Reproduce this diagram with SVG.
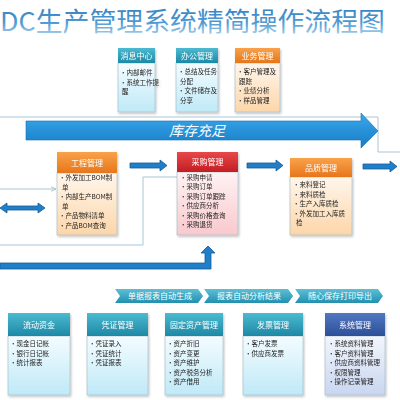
<svg xmlns="http://www.w3.org/2000/svg" width="400" height="400" viewBox="0 0 400 400">
<style>
.hd{font-family:"Noto Sans CJK SC","Noto Sans",sans-serif;font-size:8px;fill:#ffffff;text-anchor:middle}
.it{font-family:"Noto Sans CJK SC","Noto Sans",sans-serif;font-size:6.5px;fill:#222222}
.ch{font-family:"Noto Sans CJK SC","Noto Sans",sans-serif;font-size:8px;fill:#ffffff;text-anchor:middle}
.ln{fill:none;stroke:#a9c6d6;stroke-width:1}
.ba{fill:#1f7fc8;stroke:#1a5a96;stroke-width:0.8}
.bd{stroke:#9fb7c4;stroke-width:0.6}
</style>
<defs>
<linearGradient id="gTitle" x1="0" y1="0" x2="0" y2="1"><stop offset="0" stop-color="#2a78bc"/><stop offset="0.6" stop-color="#4f9ad2"/><stop offset="1" stop-color="#b8dcf2"/></linearGradient>
<linearGradient id="gTeal" x1="0" y1="0" x2="0" y2="1"><stop offset="0" stop-color="#4cbad0"/><stop offset="1" stop-color="#1d89a6"/></linearGradient>
<linearGradient id="gCyan" x1="0" y1="0" x2="0" y2="1"><stop offset="0" stop-color="#f4fcff"/><stop offset="1" stop-color="#bfe9f7"/></linearGradient>
<linearGradient id="gOrange" x1="0" y1="0" x2="0" y2="1"><stop offset="0" stop-color="#f9a24a"/><stop offset="1" stop-color="#e7761a"/></linearGradient>
<linearGradient id="gPeach" x1="0" y1="0" x2="0" y2="1"><stop offset="0" stop-color="#fff6ec"/><stop offset="1" stop-color="#fcd6aa"/></linearGradient>
<linearGradient id="gRed" x1="0" y1="0" x2="0" y2="1"><stop offset="0" stop-color="#e8484a"/><stop offset="1" stop-color="#c41d22"/></linearGradient>
<linearGradient id="gPink" x1="0" y1="0" x2="0" y2="1"><stop offset="0" stop-color="#fff2f3"/><stop offset="1" stop-color="#f8c9cd"/></linearGradient>
<linearGradient id="gNavy" x1="0" y1="0" x2="0" y2="1"><stop offset="0" stop-color="#5277c2"/><stop offset="1" stop-color="#2d4f98"/></linearGradient>
<linearGradient id="gLav" x1="0" y1="0" x2="0" y2="1"><stop offset="0" stop-color="#f2f5fc"/><stop offset="1" stop-color="#c9d6f0"/></linearGradient>
<linearGradient id="gBig" x1="0" y1="0" x2="0" y2="1"><stop offset="0" stop-color="#3aa8ec"/><stop offset="1" stop-color="#167cc6"/></linearGradient>
<linearGradient id="gChev" x1="0" y1="0" x2="0" y2="1"><stop offset="0" stop-color="#5cc0d6"/><stop offset="1" stop-color="#2290ae"/></linearGradient>
<filter id="sh" x="-10%" y="-10%" width="130%" height="130%"><feDropShadow dx="1" dy="1.5" stdDeviation="1" flood-color="#000" flood-opacity="0.25"/></filter>
<marker id="ah" viewBox="0 0 6 6" refX="5.5" refY="3" markerWidth="6" markerHeight="6" orient="auto"><path d="M0,0.5 L5.5,3 L0,5.5" fill="none" stroke="#a9c6d6" stroke-width="1"/></marker>
</defs>
<rect width="400" height="400" fill="#ffffff"/>

<text x="0" y="30.5" font-family="'Noto Sans CJK SC',sans-serif" font-size="26" fill="url(#gTitle)" textLength="385" lengthAdjust="spacingAndGlyphs">DC生产管理系统精简操作流程图</text>

<g id="connectors">
<polyline class="ln" points="0,117 378,117 378,152 400,152"/>
<polyline class="ln" points="0,245 143,245 143,177 177,177"/>
<line class="ln" x1="0" y1="189" x2="56" y2="189" marker-end="url(#ah)"/>
<polygon points="26,121 361,121 361,113 378,131 361,148 361,140 26,140" fill="url(#gBig)" stroke="#1a6fb0" stroke-width="0.6"/>
<text x="197" y="136" font-family="'Noto Sans CJK SC',sans-serif" font-size="14" fill="#ffffff" text-anchor="middle" font-style="italic">库存充足</text>
<polygon class="ba" points="130,163 160,163 160,160 167,165.5 160,171 160,168 130,168"/>
<polygon class="ba" points="247,163 276,163 276,160 283,165.5 276,171 276,168 247,168"/>
<polygon class="ba" points="363,164 390,164 390,161 397,166.5 390,172 390,169 363,169"/>
<polygon class="ba" points="0,208 7,203 7,206 38,206 38,203 45,208 38,213 38,210 7,210 7,213"/>
<polygon class="ba" points="0,263 205,263 205,253 201,253 208,246 215,253 211,253 211,269 0,269"/>
</g>

<g id="n-xiaoxi" filter="url(#sh)">
<rect x="118" y="63" width="37" height="49" fill="url(#gCyan)" class="bd"/>
<rect x="118" y="48" width="37" height="15" fill="url(#gTeal)"/>
<text class="hd" x="136.5" y="58.5" font-size="7">消息中心</text>
<text class="it" x="120" y="75">•内部邮件</text>
<text class="it" x="120" y="84.5">•系统工作提</text>
<text class="it" x="122" y="94">醒</text>
</g>
<g id="n-bangong" filter="url(#sh)">
<rect x="176" y="63" width="42" height="49" fill="url(#gCyan)" class="bd"/>
<rect x="176" y="48" width="42" height="15" fill="url(#gTeal)"/>
<text class="hd" x="197" y="58.5" font-size="7">办公管理</text>
<text class="it" x="178" y="74">•总结及任务</text>
<text class="it" x="180" y="83.5">分配</text>
<text class="it" x="178" y="93">•文件储存及</text>
<text class="it" x="180" y="102.5">分享</text>
</g>
<g id="n-yewu" filter="url(#sh)">
<rect x="235" y="63" width="45" height="49" fill="url(#gPeach)" class="bd"/>
<rect x="235" y="48" width="45" height="15" fill="url(#gOrange)"/>
<text class="hd" x="257.5" y="58.5" font-size="7">业务管理</text>
<text class="it" x="237" y="74">•客户管理及</text>
<text class="it" x="239" y="83.5">跟踪</text>
<text class="it" x="237" y="93">•业绩分析</text>
<text class="it" x="237" y="102.5">•样品管理</text>
</g>

<g id="n-gongcheng" filter="url(#sh)">
<rect x="57" y="173" width="60" height="62" fill="url(#gPeach)" class="bd"/>
<rect x="57" y="152" width="60" height="21" fill="url(#gOrange)"/>
<text class="hd" x="87" y="165.5">工程管理</text>
<text class="it" x="59" y="180">•外发加工BOM制</text>
<text class="it" x="62" y="189.5">单</text>
<text class="it" x="59" y="199">•内部生产BOM制</text>
<text class="it" x="62" y="208.5">单</text>
<text class="it" x="59" y="218">•产品物料清单</text>
<text class="it" x="59" y="227.5">•产品BOM查询</text>
</g>
<g id="n-caigou" filter="url(#sh)">
<rect x="177" y="172" width="61" height="63" fill="url(#gPink)" class="bd"/>
<rect x="177" y="152" width="61" height="20" fill="url(#gRed)"/>
<text class="hd" x="207.5" y="165">采购管理</text>
<text class="it" x="180" y="179.5">•采购申请</text>
<text class="it" x="180" y="189">•采购订单</text>
<text class="it" x="180" y="198.5">•采购订单跟踪</text>
<text class="it" x="180" y="208">•供应商分析</text>
<text class="it" x="180" y="217.5">•采购价格查询</text>
<text class="it" x="180" y="227">•采购退货</text>
</g>
<g id="n-pinzhi" filter="url(#sh)">
<rect x="290" y="177" width="62" height="58" fill="url(#gPeach)" class="bd"/>
<rect x="290" y="158" width="62" height="19" fill="url(#gOrange)"/>
<text class="hd" x="321" y="170.5">品质管理</text>
<text class="it" x="293" y="187">•来料登记</text>
<text class="it" x="293" y="196.5">•来料质检</text>
<text class="it" x="293" y="206">•生产入库质检</text>
<text class="it" x="293" y="215.5">•外发加工入库质</text>
<text class="it" x="296" y="225">检</text>
</g>

<g id="n-chevrons">
<polygon points="115,289 198,289 203,296 198,303 115,303 120,296" fill="url(#gChev)"/>
<text class="ch" x="160" y="299">单据报表自动生成</text>
<polygon points="204,289 288,289 293,296 288,303 204,303 209,296" fill="url(#gChev)"/>
<text class="ch" x="249" y="299">报表自动分析结果</text>
<polygon points="295,289 378,289 383,296 378,303 295,303 300,296" fill="url(#gChev)"/>
<text class="ch" x="340" y="299">随心保存打印导出</text>
</g>

<g id="n-liudong" filter="url(#sh)">
<rect x="8" y="336" width="62" height="59" fill="url(#gCyan)" class="bd"/>
<rect x="8" y="313" width="62" height="23" fill="url(#gTeal)"/>
<text class="hd" x="39" y="327.5">流动资金</text>
<text class="it" x="10" y="346">•现金日记帐</text>
<text class="it" x="10" y="355.5">•银行日记帐</text>
<text class="it" x="10" y="365">•统计报表</text>
</g>
<g id="n-pingzheng" filter="url(#sh)">
<rect x="87" y="336" width="61" height="59" fill="url(#gCyan)" class="bd"/>
<rect x="87" y="313" width="61" height="23" fill="url(#gTeal)"/>
<text class="hd" x="117.5" y="327.5">凭证管理</text>
<text class="it" x="89" y="346">•凭证录入</text>
<text class="it" x="89" y="355.5">•凭证统计</text>
<text class="it" x="89" y="365">•凭证报表</text>
</g>
<g id="n-guding" filter="url(#sh)">
<rect x="165" y="336" width="58" height="59" fill="url(#gCyan)" class="bd"/>
<rect x="165" y="313" width="58" height="23" fill="url(#gTeal)"/>
<text class="hd" x="194" y="327.5">固定资产管理</text>
<text class="it" x="167" y="346">•资产折旧</text>
<text class="it" x="167" y="355.5">•资产变更</text>
<text class="it" x="167" y="365">•资产维护</text>
<text class="it" x="167" y="374.5">•资产税务分析</text>
<text class="it" x="167" y="384">•资产借用</text>
</g>
<g id="n-fapiao" filter="url(#sh)">
<rect x="243" y="336" width="60" height="59" fill="url(#gCyan)" class="bd"/>
<rect x="243" y="313" width="60" height="23" fill="url(#gTeal)"/>
<text class="hd" x="273" y="327.5">发票管理</text>
<text class="it" x="245" y="346">•客户发票</text>
<text class="it" x="245" y="355.5">•供应商发票</text>
</g>
<g id="n-xitong" filter="url(#sh)">
<rect x="325" y="336" width="60" height="59" fill="url(#gLav)" class="bd"/>
<rect x="325" y="313" width="60" height="23" fill="url(#gNavy)"/>
<text class="hd" x="355" y="327.5">系统管理</text>
<text class="it" x="328" y="346">•系统资料管理</text>
<text class="it" x="328" y="355.5">•客户资料管理</text>
<text class="it" x="328" y="365">•供应商资料管理</text>
<text class="it" x="328" y="374.5">•权限管理</text>
<text class="it" x="328" y="384">•操作记录管理</text>
</g>
</svg>
